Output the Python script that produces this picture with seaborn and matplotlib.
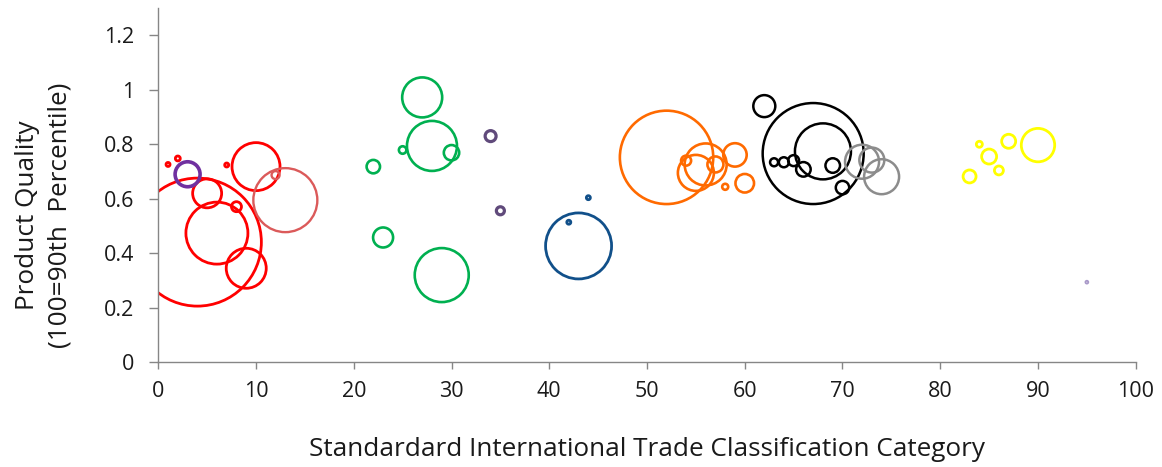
import matplotlib
matplotlib.use("Agg")
import matplotlib.pyplot as plt
import seaborn as sns
import pandas as pd
import numpy as np

# ---------------- data ----------------
# SITC category (x), product quality (y), bubble size (relative trade share), colour group
red_x = [1, 2, 7, 4, 6, 5, 8, 9, 10]
red_y = [0.725, 0.747, 0.723, 0.44, 0.473, 0.619, 0.57, 0.344, 0.717]
red_s = [0.04, 0.06, 0.04, 40.96, 9.61, 2.10, 0.25, 4.00, 5.76]

lightred_x = [13, 12]
lightred_y = [0.594, 0.686]
lightred_s = [10.24, 0.16]

purple_x = [3]
purple_y = [0.689]
purple_s = [1.56]

green_x = [27, 28, 30, 25, 22, 23, 29]
green_y = [0.971, 0.793, 0.768, 0.778, 0.717, 0.457, 0.319]
green_s = [4.00, 6.25, 0.59, 0.14, 0.45, 1.00, 7.29]

darkpurple_x = [34, 35]
darkpurple_y = [0.829, 0.555]
darkpurple_s = [0.30, 0.16]

blue_x = [43, 42, 44]
blue_y = [0.426, 0.513, 0.603]
blue_s = [10.89, 0.04, 0.04]

orange_x = [52, 56, 55, 54, 57, 59, 58, 60]
orange_y = [0.751, 0.725, 0.694, 0.739, 0.725, 0.760, 0.643, 0.656]
orange_s = [21.8, 4.41, 3.24, 0.25, 0.64, 1.37, 0.09, 0.86]

black_x = [62, 67, 68, 63, 64, 65, 66, 69, 70]
black_y = [0.939, 0.765, 0.773, 0.733, 0.733, 0.739, 0.707, 0.721, 0.640]
black_s = [1.21, 25.5, 7.84, 0.16, 0.25, 0.30, 0.53, 0.53, 0.45]

gray_x = [72, 73, 74]
gray_y = [0.735, 0.741, 0.680]
gray_s = [2.89, 1.56, 3.06]

yellow_x = [90, 87, 84, 85, 86, 83]
yellow_y = [0.796, 0.810, 0.799, 0.754, 0.703, 0.681]
yellow_s = [2.79, 0.49, 0.09, 0.56, 0.20, 0.42]

lilac_x = [95]
lilac_y = [0.293]
lilac_s = [0.02]

groups = {
    "red": (red_x, red_y, red_s),
    "lightred": (lightred_x, lightred_y, lightred_s),
    "purple": (purple_x, purple_y, purple_s),
    "green": (green_x, green_y, green_s),
    "darkpurple": (darkpurple_x, darkpurple_y, darkpurple_s),
    "blue": (blue_x, blue_y, blue_s),
    "orange": (orange_x, orange_y, orange_s),
    "black": (black_x, black_y, black_s),
    "gray": (gray_x, gray_y, gray_s),
    "yellow": (yellow_x, yellow_y, yellow_s),
    "lilac": (lilac_x, lilac_y, lilac_s),
}

# ---------------- styles ----------------
palette = {
    "red": "#FF0000",
    "lightred": "#DB5A5A",
    "purple": "#7030A0",
    "green": "#00B050",
    "darkpurple": "#604A7B",
    "blue": "#11508A",
    "orange": "#FF6A00",
    "black": "#000000",
    "gray": "#8C8C8C",
    "yellow": "#FFFF00",
    "lilac": "#A898C8",
}
linewidths = {  # points
    "red": 2.0, "lightred": 1.7, "purple": 2.6, "green": 1.9, "darkpurple": 2.3,
    "blue": 2.0, "orange": 1.9, "black": 1.8, "gray": 1.8, "yellow": 2.0, "lilac": 1.3,
}

rows = []
for g, (xs, ys, ss) in groups.items():
    for xv, yv, sv in zip(xs, ys, ss):
        rows.append({"sitc": xv, "quality": yv, "share": sv, "group": g})
df = pd.DataFrame(rows)

DPI = 100
sns.set_style("ticks")
plt.rcParams["font.family"] = ["Open Sans", "DejaVu Sans"]

fig = plt.figure(figsize=(11.62, 4.67), dpi=DPI)
ax = fig.add_axes([0.1362, 0.2248, 0.8412, 0.7586])

# area-proportional bubbles: value 1 -> radius 10 px
max_share = df["share"].max()
pts_per_px = 72.0 / DPI
s_per_unit = (2 * 10 * pts_per_px) ** 2
sns.scatterplot(data=df, x="sitc", y="quality", hue="group", palette=palette,
                size="share", sizes=(0, s_per_unit * max_share), size_norm=(0, max_share),
                legend=False, ax=ax)

coll = ax.collections[-1]
fc = coll.get_facecolors()
coll.set_edgecolors(fc)
coll.set_facecolors("none")
coll.set_linewidths([linewidths[g] for g in df["group"]])

ax.set_xlim(0, 100)
ax.set_ylim(0, 1.3)
ax.set_xticks(np.arange(0, 101, 10))
ax.set_yticks([0, 0.2, 0.4, 0.6, 0.8, 1.0, 1.2])
ax.set_yticklabels(["0", "0.2", "0.4", "0.6", "0.8", "1", "1.2"])

sns.despine(ax=ax)
for side in ["left", "bottom"]:
    ax.spines[side].set_color("#868686")
    ax.spines[side].set_linewidth(1.0)
ax.tick_params(axis="both", colors="#868686", labelcolor="#1a1a1a", labelsize=15.5, width=1.0)
ax.tick_params(axis="y", length=6.5, pad=11)
ax.tick_params(axis="x", length=5, pad=9)

ax.set_xlabel("Standardard International Trade Classification Category", fontsize=18.8, color="#1a1a1a")
ax.set_ylabel("Product Quality\n(100=90th  Percentile)", fontsize=18.8, color="#1a1a1a", linespacing=1.4)
ax.xaxis.set_label_coords(0.5, -0.213)
ax.yaxis.set_label_coords(-0.088, 0.415)

fig.savefig("out.png", dpi=DPI)
